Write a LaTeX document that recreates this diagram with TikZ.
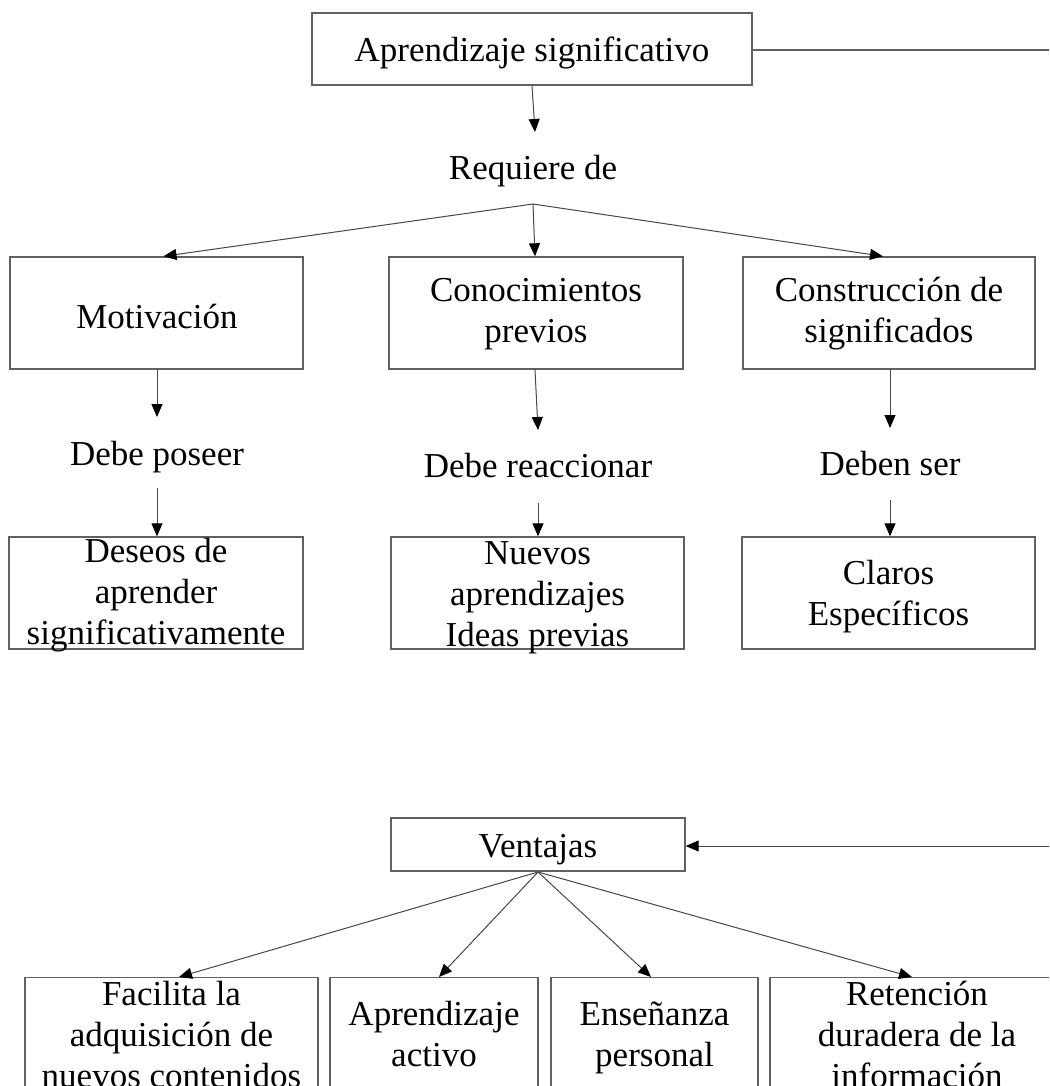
\documentclass[tikz,border=0pt]{standalone}
\usepackage{fontspec}
\setmainfont{Liberation Serif}
\usetikzlibrary{arrows.meta}
\begin{document}
\begin{tikzpicture}[x=1pt,y=-1pt,
  box/.style={draw=black!62,line width=1.4pt,inner sep=0pt,rectangle},
  txt/.style={font=\fontsize{35}{41}\selectfont,align=center,inner sep=0pt,anchor=base},
  conn/.style={draw=black!72,line width=1pt,-{Triangle[length=13pt,width=11pt,color=black]}},
  plain/.style={draw=black!62,line width=1.2pt}]
\useasboundingbox (0,0) rectangle (1049,1086);
\clip (0,0) rectangle (1049,1086);
% top
\node[box,minimum width=440pt,minimum height=72pt] (top) at (532,49) {};
\node[txt] (t-top) at (532,62) {Aprendizaje significativo};
\coordinate (topright) at (1060,50);
\draw[plain] (top.east |- topright) -- (topright);
\coordinate (a-req) at (535,132);
\draw[conn] (top.south) -- (a-req);
\node[txt] (t-req) at (533,180) {Requiere de};
\coordinate (br1) at (533,204);
% row 2
\node[box,minimum width=293pt,minimum height=112pt] (mot) at (156.5,313) {};
\node[box,minimum width=294pt,minimum height=112pt] (con) at (536,313) {};
\node[box,minimum width=292pt,minimum height=112pt] (cons) at (889,313) {};
\node[txt] (t-mot) at (157,328) {Motivación};
\node[txt] (t-con) at (536,342) {Conocimientos\\previos};
\node[txt] (t-cons) at (889,342) {Construcción de\\significados};
\draw[conn] (br1) -- ([xshift=7pt]mot.north);
\draw[conn] (br1) -- ([xshift=-1pt]con.north);
\draw[conn] (br1) -- ([xshift=-6pt]cons.north);
% middle labels
\coordinate (a-mot1) at (157,417);
\coordinate (a-mot2) at (157,488);
\coordinate (a-con1) at (538,430);
\coordinate (a-con2) at (538,503);
\coordinate (a-cons1) at (890,428);
\coordinate (a-cons2) at (890,500);
\node[txt] (t-pos) at (157,465) {Debe poseer};
\node[txt] (t-rea) at (538,477) {Debe reaccionar};
\node[txt] (t-ser) at (890,475) {Deben ser};
\draw[conn] ([xshift=0.5pt]mot.south) -- (a-mot1);
\draw[conn] ([xshift=-1pt]con.south) -- (a-con1);
\draw[conn] ([xshift=1pt]cons.south) -- (a-cons1);
% row 3
\node[box,minimum width=294pt,minimum height=112pt] (des) at (156,593) {};
\node[box,minimum width=293pt,minimum height=112pt] (nue) at (537.5,593) {};
\node[box,minimum width=293pt,minimum height=112pt] (cla) at (888.5,593) {};
\node[txt] (t-des) at (156,644) {Deseos de\\aprender\\significativamente};
\node[txt] (t-nue) at (537.5,646) {Nuevos\\aprendizajes\\Ideas previas};
\node[txt] (t-cla) at (888.5,625) {Claros\\Específicos};
\draw[conn] (a-mot2) -- (des.north -| a-mot2);
\draw[conn] (a-con2) -- (nue.north -| a-con2);
\draw[conn] (a-cons2) -- (cla.north -| a-cons2);
% ventajas
\node[box,minimum width=294pt,minimum height=53pt] (ven) at (538,844.5) {};
\node[txt] (t-ven) at (538,857) {Ventajas};
\coordinate (venright) at (1060,846);
\draw[conn] (venright) -- (ven.east |- venright);
\coordinate (br2) at (538,872);
% bottom row
\node[box,minimum width=293pt,minimum height=150pt,anchor=north] (b1) at (171.5,977) {};
\node[box,minimum width=208pt,minimum height=150pt,anchor=north] (b2) at (434,977) {};
\node[box,minimum width=207pt,minimum height=150pt,anchor=north] (b3) at (654.5,977) {};
\node[box,minimum width=294pt,minimum height=150pt,anchor=north] (b4) at (917,977) {};
\node[txt] (t-b1) at (171.5,1087) {Facilita la\\adquisición de\\nuevos contenidos};
\node[txt] (t-b2) at (434,1066) {Aprendizaje\\activo};
\node[txt] (t-b3) at (654.5,1066) {Enseñanza\\personal};
\node[txt] (t-b4) at (917,1087) {Retención\\duradera de la\\información};
\draw[conn] (br2) -- ([xshift=7.5pt]b1.north);
\draw[conn] (br2) -- ([xshift=5pt]b2.north);
\draw[conn] (br2) -- ([xshift=-3.5pt]b3.north);
\draw[conn] (br2) -- ([xshift=-5pt]b4.north);
\end{tikzpicture}
\end{document}
